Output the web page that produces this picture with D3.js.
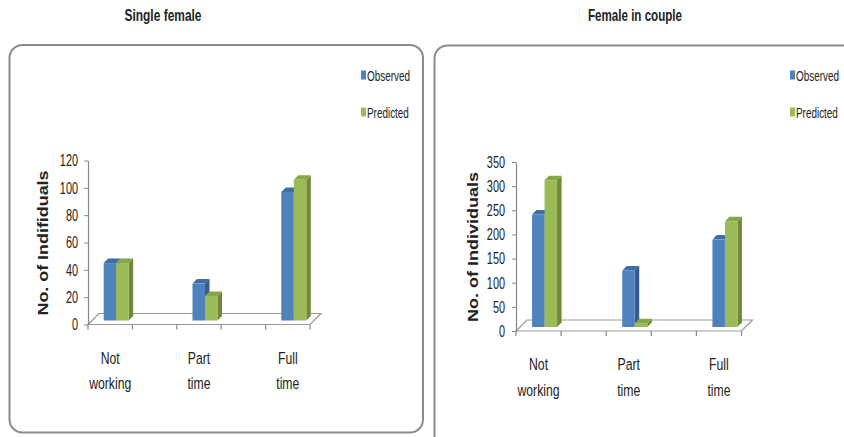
<!DOCTYPE html>
<html lang="en">
<head>
<meta charset="UTF-8">
<title>Single female / Female in couple</title>
<style>
    html, body { margin: 0; padding: 0; background: #fff; overflow: hidden; }
    svg { display: block; }
    text { font-family: "Liberation Sans", Arial, sans-serif; fill: #222; }
</style>
</head>
<body>
<svg id="stage" width="844" height="437"></svg>

<script src="https://d3js.org/d3.v7.min.js"></script>
<script>
    // data
    const categories = ['Not working', 'Part time', 'Full time'];
    const series = ['Observed', 'Predicted'];
    const singleObserved = [42, 27, 94];
    const singlePredicted = [42, 18, 103];
    const coupleObserved = [233, 117, 181];
    const couplePredicted = [304, 8, 219];
    const singleTicks = [0, 20, 40, 60, 80, 100, 120];
    const coupleTicks = [0, 50, 100, 150, 200, 250, 300, 350];

    // the excel chart leaves an empty slot between categories
    const slots = ['Not working', 'gap1', 'Part time', 'gap2', 'Full time'];

    const colors = {
        Observed: { front: '#4f81bd', side: '#355c8c', top: '#3e6ca6' },
        Predicted: { front: '#9bbb59', side: '#6f8a3a', top: '#86a648' }
    };

    const svg = d3.select('#stage');
    const sx = 0.66; // narrow text, like the squeezed Calibri of the original

    const charts = [
        {
            title: 'Single female', titleX: 163, titleLen: 77,
            yTitle: 'No. of  Indifiduals', yTitleX: 43, yTitleY: 243, yTitleLen: 145,
            panel: [9.5, 45, 413.5, 387.5],
            x0: 88, x1: 310, y0: 324.5, yTop: 160.5,
            ticks: singleTicks, values: [singleObserved, singlePredicted],
            legendX: 361, labelOff: 10
        },
        {
            title: 'Female in couple', titleX: 635, titleLen: 94,
            yTitle: 'No. of  Individuals', yTitleX: 473, yTitleY: 247, yTitleLen: 150,
            panel: [434.5, 45.5, 430, 405],
            x0: 516, x1: 741.5, y0: 331, yTop: 162,
            ticks: coupleTicks, values: [coupleObserved, couplePredicted],
            legendX: 790, labelOff: 11
        }
    ];

    charts.forEach(c => {
        const g = svg.append('g');

        // rounded frame
        g.append('rect')
            .attr('x', c.panel[0]).attr('y', c.panel[1])
            .attr('width', c.panel[2]).attr('height', c.panel[3])
            .attr('rx', 13).attr('ry', 13)
            .attr('fill', 'none')
            .attr('stroke', '#8c8c8c')
            .attr('stroke-width', 2);

        // title above the frame
        g.append('text')
            .attr('x', c.titleX).attr('y', 21)
            .attr('text-anchor', 'middle')
            .attr('font-size', 17)
            .attr('font-weight', 'bold')
            .attr('fill', '#000')
            .attr('textLength', c.titleLen)
            .attr('lengthAdjust', 'spacingAndGlyphs')
            .text(c.title);

        const x = d3.scaleBand().domain(slots).range([c.x0, c.x1]).paddingInner(0);
        const xs = d3.scaleBand().domain(series).range([-12.5, 12.5]);
        const y = d3.scaleLinear()
            .domain([0, d3.max(c.ticks)])
            .range([c.y0, c.yTop]);

        // floor
        const fd = 11;
        const floor = [
            [c.x0, c.y0], [c.x1, c.y0],
            [c.x1 + fd, c.y0 - fd], [c.x0 + fd, c.y0 - fd]
        ];
        g.append('polygon')
            .attr('points', floor.map(p => p.join(',')).join(' '))
            .attr('fill', '#fff')
            .attr('stroke', '#999')
            .attr('stroke-width', 1.2);

        // x ticks at slot edges
        const edges = slots.map(s => x(s)).concat([c.x1]);
        g.selectAll('.xtick')
            .data(edges)
            .join('line')
            .attr('x1', d => d).attr('x2', d => d)
            .attr('y1', c.y0).attr('y2', c.y0 + 5)
            .attr('stroke', '#888')
            .attr('stroke-width', 1.2);

        // y axis
        const axis = g.append('g')
            .attr('transform', `translate(${c.x0},0)`)
            .call(d3.axisLeft(y).tickValues(c.ticks).tickSize(4).tickSizeOuter(0));
        axis.select('.domain').attr('stroke', '#888').attr('stroke-width', 1.2);
        axis.selectAll('.tick line').attr('stroke', '#888');
        axis.selectAll('.tick text')
            .attr('x', -c.labelOff / sx)
            .attr('transform', `scale(${sx},1)`)
            .attr('font-size', 16.5)
            .attr('font-family', '"Liberation Sans", Arial, sans-serif')
            .attr('fill', '#222');

        // 3d columns
        const dx = 6, dy = 4, d = 4.5;
        const bars = [];
        categories.forEach((cat, i) => {
            series.forEach((s, j) => {
                bars.push({ cat, s, v: c.values[j][i] });
            });
        });
        const w = xs.bandwidth();
        bars.forEach(b => {
            const bx = x(b.cat) + x.bandwidth() / 2 + xs(b.s) + dx;
            const top = y(b.v) - dy;
            const bottom = c.y0 - dy;
            const col = colors[b.s];
            const bg = g.append('g');
            bg.append('polygon')
                .attr('points', [[bx + w, top], [bx + w + d, top - d], [bx + w + d, bottom - d], [bx + w, bottom]].map(p => p.join(',')).join(' '))
                .attr('fill', col.side);
            bg.append('polygon')
                .attr('points', [[bx, top], [bx + d, top - d], [bx + w + d, top - d], [bx + w, top]].map(p => p.join(',')).join(' '))
                .attr('fill', col.top);
            bg.append('rect')
                .attr('x', bx).attr('y', top)
                .attr('width', w).attr('height', bottom - top)
                .attr('fill', col.front);
        });

        // category labels, two lines each
        categories.forEach(cat => {
            const words = cat.split(' ');
            const lg = g.append('g')
                .attr('transform', `translate(${x(cat) + x.bandwidth() / 2},${c.y0 + 39}) scale(${sx + 0.06},1)`);
            const t = lg.append('text')
                .attr('text-anchor', 'middle')
                .attr('font-size', 17);
            t.append('tspan').attr('x', 0).attr('y', 0).text(words[0]);
            t.append('tspan').attr('x', 0).attr('y', 26).text(words[1]);
        });

        // y axis title
        g.append('text')
            .attr('transform', `translate(${c.yTitleX + 5},${c.yTitleY}) rotate(-90)`)
            .attr('text-anchor', 'middle')
            .attr('font-size', 14)
            .attr('font-weight', 'bold')
            .attr('fill', '#111')
            .attr('textLength', c.yTitleLen)
            .attr('lengthAdjust', 'spacingAndGlyphs')
            .text(c.yTitle);

        // legend
        series.forEach((s, j) => {
            const ly = 75 + j * 37;
            g.append('rect')
                .attr('x', c.legendX).attr('y', ly - 4.5)
                .attr('width', 5).attr('height', 9)
                .attr('fill', colors[s].front);
            g.append('text')
                .attr('transform', `translate(${c.legendX + 6},${ly + 5.5}) scale(0.64,1)`)
                .attr('font-size', 15.5)
                .text(s);
        });
    });
</script>
</body>
</html>
